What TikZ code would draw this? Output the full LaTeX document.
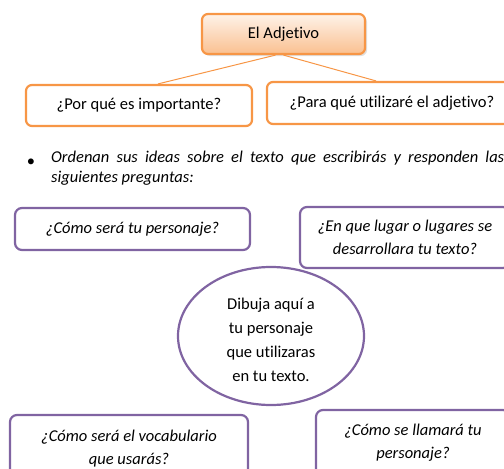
\documentclass[tikz,border=0pt]{standalone}
\usepackage{fontspec}
\setmainfont{Carlito}[Ligatures=NoCommon]
\usetikzlibrary{shapes, shadows, positioning}
\usepackage{xcolor}
\definecolor{naranja}{RGB}{247,150,70}
\definecolor{morado}{RGB}{128,100,162}

\begin{document}
\begin{tikzpicture}[x=1pt, y=-1pt, font=\fontsize{16.5}{23}\selectfont,
  caja/.style={draw=naranja, line width=2.2pt, rounded corners=6pt, fill=white,
    align=center, inner sep=0pt},
  pregunta/.style={draw=morado, line width=2.2pt, rounded corners=7pt, fill=white,
    align=center, inner sep=0pt, font=\fontsize{16.5}{23}\selectfont\itshape}]
  \clip (0,0) rectangle (504,469);

  % titulo
  \node[caja, minimum width=163, minimum height=40, top color=naranja!12,
    bottom color=naranja!60, drop shadow={shadow xshift=2pt, shadow yshift=-2pt, opacity=0.25}]
    (adj) at (283.5,34) {El Adjetivo};

  \node[caja, minimum width=226, minimum height=41] (imp) at (139,105.5)
  {¿Por qué es importante?};
  \node[caja, minimum width=250, minimum height=42] (util) at (392,103)
  {¿Para qué utilizaré el adjetivo?};

  % conectores
  \draw[naranja, line width=1pt] ([xshift=-8pt]adj.south) -- ([xshift=19pt]imp.north);
  \draw[naranja, line width=1pt] (adj.south) -- ([xshift=-16pt]util.north);

  % indicacion
  \node (vineta) at (31,163) {\textbullet};
  \node[anchor=north west, inner sep=0pt, text width=453pt, align=justify,
    font=\fontsize{16.5}{20}\selectfont\itshape] (indic) at (51,151)
  {Ordenan sus ideas sobre el texto que escribirás y responden las \mbox{siguientes} preguntas:};

  % preguntas
  \node[pregunta, minimum width=235, minimum height=42] (pers) at (132.5,229)
  {¿Cómo será tu personaje?};
  \node[pregunta, minimum width=210, minimum height=61] (lugar) at (405,237.5)
  {¿En que lugar o lugares se\\desarrollara tu texto?};

  \node[ellipse, draw=morado, line width=2.2pt, minimum width=186, minimum height=138,
    inner sep=0pt] (dibujo) at (271,336) {};
  \node[align=center, inner sep=0pt, font=\fontsize{16.5}{24}\selectfont] (dibujotexto)
    at (271,340) {Dibuja aquí a\\tu personaje\\que utilizaras\\en tu texto.};

  \node[pregunta, minimum width=238, minimum height=67] (vocab) at (129,448.5)
  {¿Cómo será el vocabulario\\que usarás?};
  \node[pregunta, minimum width=194, minimum height=66] (llam) at (413,443)
  {¿Cómo se llamará tu\\personaje?};
\end{tikzpicture}
\end{document}
